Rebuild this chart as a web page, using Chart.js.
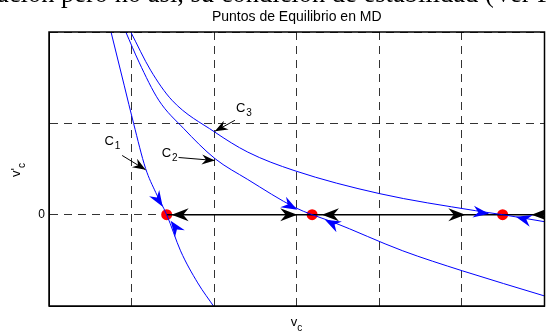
<!DOCTYPE html>
<html>
<head>
<meta charset="utf-8">
<script src="https://cdn.jsdelivr.net/npm/chart.js@4.4.0/dist/chart.umd.min.js"></script>
<style>
  body { margin: 0; background: #fff; }
  #wrap { position: relative; width: 551px; height: 331px; overflow: hidden; }
  #prose { position: absolute; left: -3px; top: -20px; font: 26.5px/26.5px "Liberation Serif", serif; white-space: nowrap; color: #000; }
  canvas { position: absolute; left: 0; top: 0; }
</style>
</head>
<body>
<div id="wrap">
  <canvas id="eqChart" width="551" height="331"></canvas>
  <div id="prose">ación pero no así, su condición de estabilidad (Ver F</div>
</div>
<script>
// CURVES

const c1X = [0.751, 0.910, 1.024, 1.170, 1.293, 1.425, 1.593, 1.801, 2.0];
const c1Y = [2.0, 1.418, 1.0, 0.505, 0.242, 0, -0.396, -0.747, -1.011];

const c2X = [0.930, 1.090, 1.329, 1.629, 2.008, 2.407, 2.982, 3.186, 3.425, 4.284, 5.006, 6.0];
const c2Y = [2.0, 1.670, 1.253, 0.945, 0.615, 0.385, 0.077, 0, -0.077, -0.396, -0.615, -0.890];

const c3X = [0.990, 1.230, 1.489, 2.008, 2.407, 2.966, 4.0, 5.162, 5.493, 6.0];
const c3Y = [2.0, 1.582, 1.253, 0.904, 0.685, 0.484, 0.231, 0.044, 0, -0.077];

// equilibrium points
const eqX = [1.425, 3.186, 5.493];
const eqY = [0, 0, 0];

// horizontal manifold
const axisLineX = [1.425, 6.0];
const axisLineY = [0, 0];

// arrow heads on the blue curves (tail -> tip)
const blueTailX = [1.269, 1.593, 2.826, 3.509, 5.138, 5.832];
const blueTailY = [0.242, -0.220, 0.143, -0.132, 0.033, -0.066];
const blueTipX = [1.377, 1.473, 3.006, 3.341, 5.329, 5.653];
const blueTipY = [0.088, -0.066, 0.055, -0.055, 0.011, -0.022];

// arrow heads on the black line (tip x, direction)
const blackTipX = [1.485, 3.006, 3.305, 5.042, 5.844];
const blackDir = [-1, 1, -1, 1, -1];

// curve labels and their pointers
const labelNames = ["C", "C", "C"];
const labelSubs = ["1", "2", "3"];
const labelX = [0.671, 1.365, 2.263];
const labelY = [0.758, 0.626, 1.121];
const pointerTailX = [0.886, 1.569, 2.251];
const pointerTailY = [0.648, 0.626, 1.033];
const pointerTipX = [1.170, 2.008, 2.008];
const pointerTipY = [0.491, 0.593, 0.912];

const toPoints = (xs, ys) => xs.map((x, i) => ({ x: x, y: ys[i] }));

function arrowHead(ctx, tx, ty, ang, len, half, color) {
  ctx.save();
  ctx.translate(tx, ty);
  ctx.rotate(ang);
  ctx.beginPath();
  ctx.moveTo(0, 0);
  ctx.lineTo(-len, -half);
  ctx.lineTo(-len * 0.68, 0);
  ctx.lineTo(-len, half);
  ctx.closePath();
  ctx.fillStyle = color;
  ctx.fill();
  ctx.restore();
}

const extras = {
  id: "extras",
  afterDatasetsDraw(chart) {
    const { ctx, chartArea, scales } = chart;
    const X = (v) => scales.x.getPixelForValue(v);
    const Y = (v) => scales.y.getPixelForValue(v);
    ctx.save();
    ctx.beginPath();
    ctx.rect(chartArea.left, chartArea.top, chartArea.right - chartArea.left, chartArea.bottom - chartArea.top);
    ctx.clip();

    for (let i = 0; i < blueTipX.length; i++) {
      const x0 = X(blueTailX[i]), y0 = Y(blueTailY[i]);
      const x1 = X(blueTipX[i]), y1 = Y(blueTipY[i]);
      arrowHead(ctx, x1, y1, Math.atan2(y1 - y0, x1 - x0), 16, 6, "#0000ff");
    }
    for (let i = 0; i < blackTipX.length; i++) {
      arrowHead(ctx, X(blackTipX[i]), Y(0), blackDir[i] > 0 ? 0 : Math.PI, 17, 6.5, "#000");
    }

    // pointers and labels
    ctx.strokeStyle = "#000";
    ctx.lineWidth = 1;
    for (let i = 0; i < pointerTipX.length; i++) {
      const x0 = X(pointerTailX[i]), y0 = Y(pointerTailY[i]);
      const x1 = X(pointerTipX[i]), y1 = Y(pointerTipY[i]);
      ctx.beginPath();
      ctx.moveTo(x0, y0);
      ctx.lineTo(x1, y1);
      ctx.stroke();
      arrowHead(ctx, x1, y1, Math.atan2(y1 - y0, x1 - x0), 13, 5, "#000");

      const lx = X(labelX[i]), ly = Y(labelY[i]);
      ctx.fillStyle = "#000";
      ctx.textAlign = "left";
      ctx.textBaseline = "alphabetic";
      ctx.font = '13px "Liberation Sans", Arial';
      ctx.fillText(labelNames[i], lx, ly);
      const w = ctx.measureText(labelNames[i]).width;
      ctx.font = '10px "Liberation Sans", Arial';
      ctx.fillText(labelSubs[i], lx + w + 1, ly + 4);
    }
    ctx.restore();
  },
  afterDraw(chart) {
    const { ctx, chartArea } = chart;
    ctx.save();
    ctx.setLineDash([]);
    ctx.strokeStyle = "#000";
    ctx.lineWidth = 1.5;
    ctx.strokeRect(chartArea.left, chartArea.top, chartArea.right - chartArea.left, chartArea.bottom - chartArea.top);

    ctx.fillStyle = "#000";
    ctx.textBaseline = "alphabetic";
    // x label
    ctx.font = '13px "Liberation Sans", Arial';
    const cx = (chartArea.left + chartArea.right) / 2;
    const vw = ctx.measureText("v").width;
    ctx.textAlign = "left";
    ctx.fillText("v", cx - 6, 326);
    ctx.font = '10px "Liberation Sans", Arial';
    ctx.fillText("c", cx - 6 + vw, 331);

    // y label
    ctx.translate(20, (chartArea.top + chartArea.bottom) / 2);
    ctx.rotate(-Math.PI / 2);
    ctx.font = '13px "Liberation Sans", Arial';
    const pw = ctx.measureText("v'").width;
    ctx.fillText("v'", -8, 0);
    ctx.font = '10px "Liberation Sans", Arial';
    ctx.fillText("c", -8 + pw, 5);
    ctx.restore();
  },
};

const curveStyle = {
  showLine: true,
  borderColor: "#0000ff",
  borderWidth: 1,
  pointRadius: 0,
  cubicInterpolationMode: "monotone",
  fill: false,
};

const gridDash = { dash: [8, 6], color: "#000", width: 1 };

new Chart(document.getElementById("eqChart"), {
  type: "scatter",
  data: {
    datasets: [
      { label: "C1", data: toPoints(c1X, c1Y), ...curveStyle },
      { label: "C2", data: toPoints(c2X, c2Y), ...curveStyle },
      { label: "C3", data: toPoints(c3X, c3Y), ...curveStyle },
      {
        label: "manifold",
        data: toPoints(axisLineX, axisLineY),
        showLine: true,
        borderColor: "#000",
        borderWidth: 1.5,
        pointRadius: 0,
      },
      {
        label: "equilibrio",
        data: toPoints(eqX, eqY),
        pointRadius: 4.5,
        borderWidth: 2,
        borderColor: "#ff0000",
        backgroundColor: "#ff0000",
      },
    ],
  },
  options: {
    responsive: false,
    animation: false,
    layout: { padding: { left: 0, right: 1, top: 0, bottom: 0 } },
    plugins: {
      legend: { display: false },
      tooltip: { enabled: false },
      title: {
        display: true,
        fullSize: false,
        text: "Puntos de Equilibrio en MD",
        color: "#000",
        font: { family: '"Liberation Sans", Arial', size: 14, weight: "normal" },
        padding: { top: 9, bottom: 6.2 },
      },
    },
    scales: {
      x: {
        type: "linear",
        min: 0,
        max: 6,
        ticks: { stepSize: 1, callback: () => "" },
        grid: { color: "rgba(0,0,0,0.8)", lineWidth: 1, drawTicks: false },
        border: gridDash,
        afterFit: (s) => {
          s.height = 25;
        },
      },
      y: {
        min: -1,
        max: 2,
        ticks: {
          stepSize: 1,
          padding: 4,
          color: "#000",
          font: { family: '"Liberation Sans", Arial', size: 12 },
          callback: (v) => (v === 0 ? "0" : ""),
        },
        grid: { color: "rgba(0,0,0,0.8)", lineWidth: 1, drawTicks: false },
        border: gridDash,
        afterFit: (s) => {
          s.width = 49;
        },
      },
    },
  },
  plugins: [extras],
});
</script>
</body>
</html>
